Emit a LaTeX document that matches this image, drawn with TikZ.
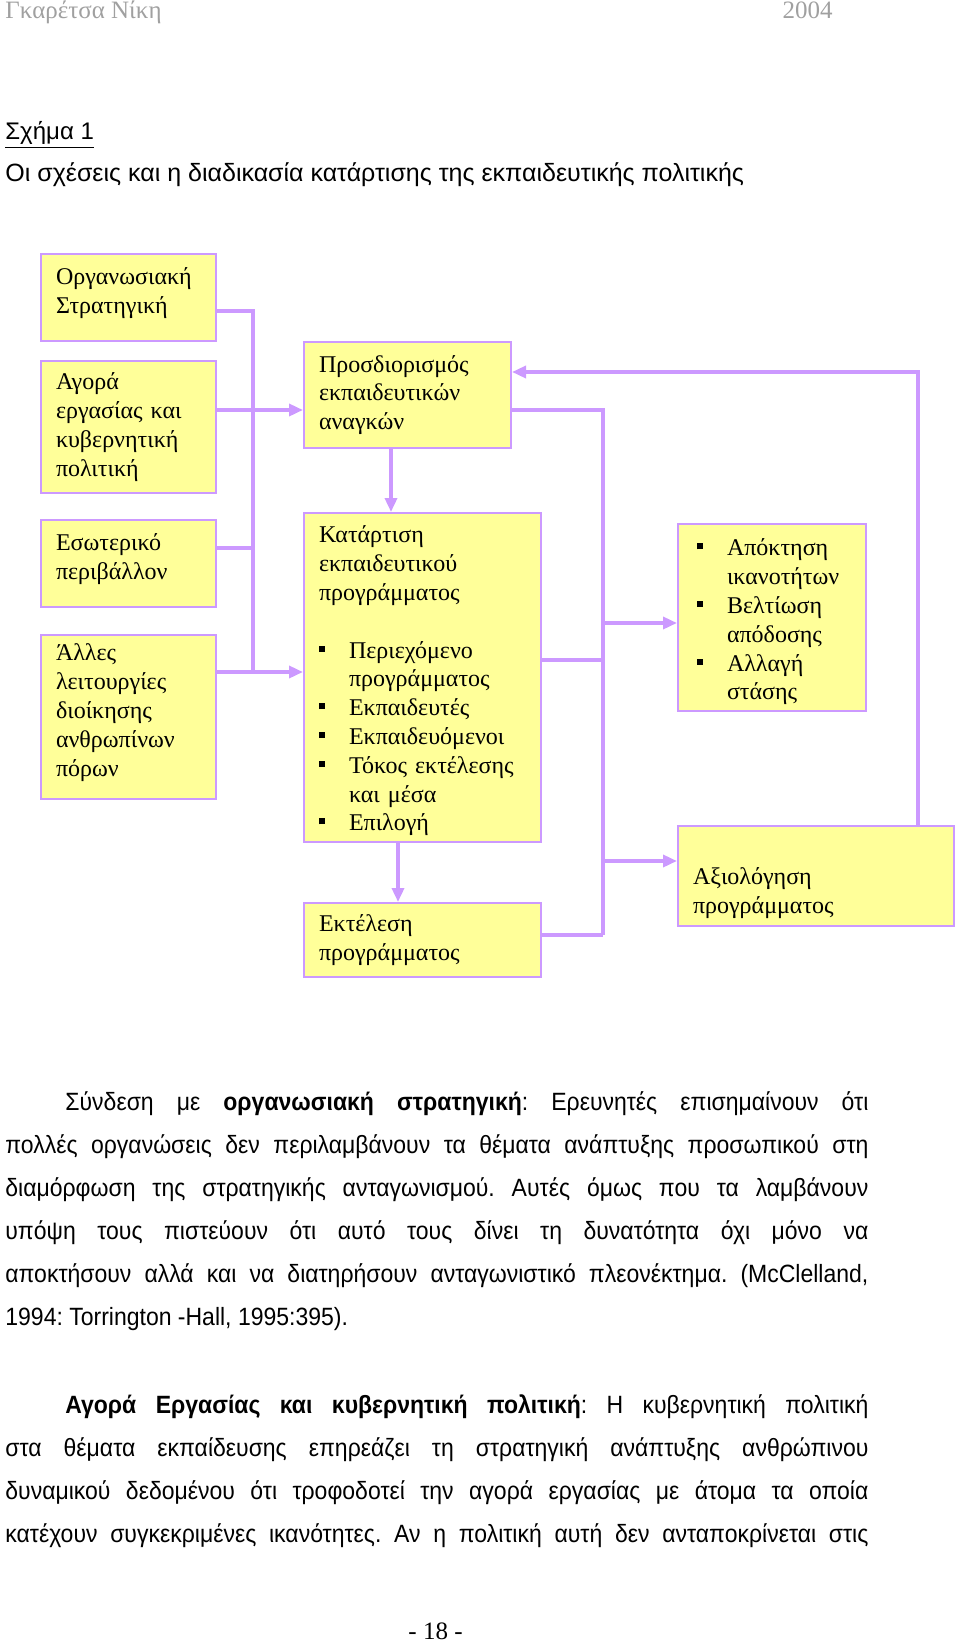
\documentclass[tikz,border=0pt]{standalone}
\usepackage{fontspec}
\setmainfont{Liberation Serif}
\setsansfont{Liberation Sans}
\newfontfamily\narrowsans[FakeStretch=0.92]{Liberation Sans}
\usetikzlibrary{positioning,arrows.meta}

\definecolor{boxfill}{HTML}{FFFF99}
\definecolor{boxline}{HTML}{CC99FF}
\definecolor{headgray}{HTML}{A0A0A0}

\newcommand{\boxfont}{\rmfamily\fontsize{12}{14.4}\selectfont}
\newcommand{\bodyfont}{\narrowsans\fontsize{12.5}{21.5}\selectfont\frenchspacing}
\newcommand{\sqb}{\makebox[15pt][l]{\rule[3.3pt]{3pt}{3pt}}}
\newcommand{\sqh}{\hspace*{15pt}}
\newcommand{\lift}{\rule[-7pt]{0pt}{7pt}}

\begin{document}
\begin{tikzpicture}[
        x=0.5pt, y=-0.5pt,
        >={Triangle[length=7pt,width=6pt]},
        box/.style={
            draw=boxline,
            fill=boxfill,
            line width=1pt,
            align=left,
            anchor=north west,
            inner xsep=7.5pt,
            inner ysep=2pt,
            font=\boxfont
        },
        link/.style={draw=boxline, line width=1.7pt},
        plain/.style={inner sep=0pt}
    ]
        \useasboundingbox (0,0) rectangle (960,1643);

        % page head and caption
        \node[plain, anchor=base west, text=headgray, font=\rmfamily\fontsize{12.5}{14}\selectfont] (author) at (5,19) {Γκαρέτσα Νίκη};
        \node[plain, anchor=base east, text=headgray, font=\rmfamily\fontsize{12.5}{14}\selectfont] (year) at (833,19) {2004};
        \node[plain, anchor=base west, font=\sffamily\fontsize{12}{14}\selectfont] (figno) at (5,140) {\underline{Σχήμα 1}};
        \node[plain, anchor=base west, font=\sffamily\fontsize{12.5}{14}\selectfont] (figtitle) at (5,181) {Οι σχέσεις και η διαδικασία κατάρτισης της εκπαιδευτικής πολιτικής};

        % left column
        \node[box, text width=72.5pt, minimum height=43.5pt] (org) at (40,253) {Οργανωσιακή\\Στρατηγική\lift};
        \node[box, text width=72.5pt, minimum height=66pt, below=9pt of org.south west, anchor=north west] (market) {Αγορά\\εργασίας και\\κυβερνητική\\πολιτική};
        \node[box, text width=72.5pt, minimum height=43.5pt, below=12.5pt of market.south west, anchor=north west] (env) {Εσωτερικό\\περιβάλλον\lift};
        \node[box, text width=72.5pt, minimum height=82pt, below=13pt of env.south west, anchor=north west] (hr) {Άλλες\\λειτουργίες\\διοίκησης\\ανθρωπίνων\\πόρων\lift};

        % middle column
        \node[box, text width=88.5pt, minimum height=53pt] (needs) at (303,341) {Προσδιορισμός\\εκπαιδευτικών\\αναγκών};
        \node[box, text width=103.5pt, minimum height=164.5pt, below=31.5pt of needs.south west, anchor=north west] (design) {\rule{0pt}{12pt}Κατάρτιση\\εκπαιδευτικού\\προγράμματος\\[14.4pt]
            \sqb Περιεχόμενο\\\sqh προγράμματος\\\sqb Εκπαιδευτές\\\sqb Εκπαιδευόμενοι\\\sqb Τόκος εκτέλεσης\\\sqh και μέσα\\\sqb Επιλογή};
        \node[box, text width=103.5pt, minimum height=37pt, below=29.5pt of design.south west, anchor=north west] (impl) {Εκτέλεση\\προγράμματος};

        % right column
        \node[box, text width=75pt, inner xsep=9.5pt, minimum height=93.5pt] (skills) at (677,523) {\rule{0pt}{13pt}\sqb Απόκτηση\\\sqh ικανοτήτων\\\sqb Βελτίωση\\\sqh απόδοσης\\\sqb Αλλαγή\\\sqh στάσης};
        \node[box, text width=123pt, minimum height=50pt, below=56.5pt of skills.south west, anchor=north west] (eval) {\mbox{}\\[11pt]Αξιολόγηση\\προγράμματος};

        % junctions
        \coordinate (jorg) at (253,311);
        \coordinate (jmarket) at (253,410);
        \coordinate (jenv) at (253,548);
        \coordinate (jhr) at (253,672);
        \coordinate (jneeds) at (603,410);
        \coordinate (jskills) at (603,623);
        \coordinate (jdesign) at (603,660);
        \coordinate (jeval) at (603,861);
        \coordinate (jimpl) at (603,935);
        \coordinate (jback) at (918,372);

        \draw[link] (org.east |- jorg) -- (jorg) -- (jhr);
        \draw[link] (market.east |- jmarket) -- (jmarket);
        \draw[link] (env.east |- jenv) -- (jenv);
        \draw[link] (hr.east |- jhr) -- (jhr);
        \draw[link, ->] (jmarket) -- (needs.west |- jmarket);
        \draw[link, ->] (jhr) -- (design.west |- jhr);
        \draw[link, ->] ([xshift=-8.25pt]needs.south) -- ([xshift=-8.25pt]needs.south |- design.north);
        \draw[link, ->] ([xshift=-12.25pt]design.south) -- ([xshift=-12.25pt]design.south |- impl.north);

        \draw[link] (needs.east |- jneeds) -- (jneeds) -- (jimpl);
        \draw[link] (design.east |- jdesign) -- (jdesign);
        \draw[link] (impl.east |- jimpl) -- (jimpl);
        \draw[link, ->] (jskills) -- (skills.west |- jskills);
        \draw[link, ->] (jeval) -- (eval.west |- jeval);
        \draw[link, ->] (eval.north -| jback) -- (jback) -- (needs.east |- jback);

        % text below the figure
        \node[plain, anchor=north west, text width=431.5pt, align=justify, font=\bodyfont] (para1) at (5,1090) {\hyphenpenalty=10000\hspace*{30pt}\rule{0pt}{10pt}Σύνδεση με \textbf{οργανωσιακή στρατηγική}: Ερευνητές επισημαίνουν ότι\linebreak
            πολλές οργανώσεις δεν περιλαμβάνουν τα θέματα ανάπτυξης προσωπικού στη\linebreak
            διαμόρφωση της στρατηγικής ανταγωνισμού. Αυτές όμως που τα λαμβάνουν\linebreak
            υπόψη τους πιστεύουν ότι αυτό τους δίνει τη δυνατότητα όχι μόνο να\linebreak
            αποκτήσουν αλλά και να διατηρήσουν ανταγωνιστικό πλεονέκτημα. (McClelland,\linebreak
            1994: Torrington -Hall, 1995:395).};
        \node[plain, anchor=north west, text width=431.5pt, align=justify, font=\bodyfont] (para2) at (5,1393) {\hyphenpenalty=10000\parfillskip=0pt\hspace*{30pt}\rule{0pt}{10pt}\textbf{Αγορά Εργασίας και κυβερνητική πολιτική}: Η κυβερνητική πολιτική\linebreak
            στα θέματα εκπαίδευσης επηρεάζει τη στρατηγική ανάπτυξης ανθρώπινου\linebreak
            δυναμικού δεδομένου ότι τροφοδοτεί την αγορά εργασίας με άτομα τα οποία\linebreak
            κατέχουν συγκεκριμένες ικανότητες. Αν η πολιτική αυτή δεν ανταποκρίνεται στις\par};

        \node[plain, anchor=base, font=\rmfamily\fontsize{12.5}{14}\selectfont] (pageno) at (435.5,1639) {- 18 -};
    \end{tikzpicture}
\end{document}
